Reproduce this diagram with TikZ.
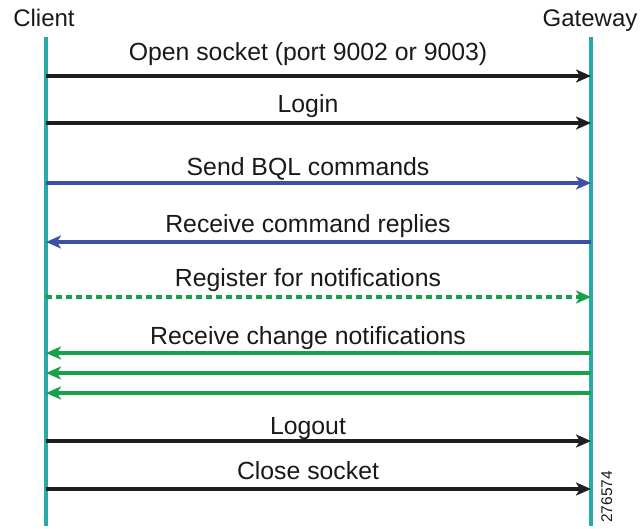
\documentclass[tikz,border=0pt]{standalone}
\usepackage{fontspec}
\setmainfont{Liberation Sans}
\usetikzlibrary{arrows.meta}
\definecolor{lifeteal}{RGB}{40,170,168}
\definecolor{msgblue}{RGB}{60,80,165}
\definecolor{msggreen}{RGB}{25,160,75}
\definecolor{msgblack}{RGB}{30,30,30}
\definecolor{txtgray}{RGB}{25,25,25}
\begin{document}
\begin{tikzpicture}[x=1pt,y=-1pt,
  lifeline/.style={draw=lifeteal,line width=3.4pt},
  msg/.style={line width=3.2pt,-{Stealth[length=15pt,width=13pt,inset=4pt]}},
  blackmsg/.style={msg,draw=msgblack},
  bluemsg/.style={msg,draw=msgblue},
  greenmsg/.style={msg,draw=msggreen},
  dottedmsg/.style={msg,draw=msggreen,dash pattern=on 6pt off 4pt},
  lbl/.style={anchor=base,inner sep=0pt,text=txtgray,font=\fontsize{24.8}{28}\selectfont},
  partname/.style={anchor=base,inner sep=0pt,text=txtgray,font=\fontsize{24}{28}\selectfont},
  figid/.style={anchor=base west,inner sep=0pt,rotate=90,text=txtgray,font=\fontsize{15.5}{18}\selectfont}
]
\useasboundingbox (0,0) rectangle (642,529);
% participants
\node[partname] (client) at (44,27) {Client};
\node[partname] (gateway) at (590,27) {Gateway};
\coordinate (ctop) at (46,37);
\coordinate (cbot) at (46,526);
\coordinate (gtop) at (591,37);
\coordinate (gbot) at (591,526);
\draw[lifeline] (ctop) -- (cbot);
\draw[lifeline] (gtop) -- (gbot);
% message endpoints
\foreach \n/\y in {1/76,2/123,3/183,4/242,5/297,6/353,7/373,8/393,9/441,10/489}{
  \coordinate (c\n) at (46,\y);
  \coordinate (g\n) at (591,\y);
}
\draw[blackmsg] (c1) -- (g1);
\draw[blackmsg] (c2) -- (g2);
\draw[bluemsg] (c3) -- (g3);
\draw[bluemsg] (g4) -- (c4);
\draw[dottedmsg] (c5) -- (g5);
\draw[greenmsg] (g6) -- (c6);
\draw[greenmsg] (g7) -- (c7);
\draw[greenmsg] (g8) -- (c8);
\draw[blackmsg] (c9) -- (g9);
\draw[blackmsg] (c10) -- (g10);
% labels
\node[lbl] (l1) at (308,61) {Open socket (port 9002 or 9003)};
\node[lbl] (l2) at (308,113) {Login};
\node[lbl] (l3) at (308,176) {Send BQL commands};
\node[lbl] (l4) at (308,233) {Receive command replies};
\node[lbl] (l5) at (308,287) {Register for notifications};
\node[lbl] (l6) at (308,344) {Receive change notifications};
\node[lbl] (l9) at (308,434) {Logout};
\node[lbl] (l10) at (308,479) {Close socket};
\node[figid] (fid) at (612,523) {276574};
\end{tikzpicture}
\end{document}
